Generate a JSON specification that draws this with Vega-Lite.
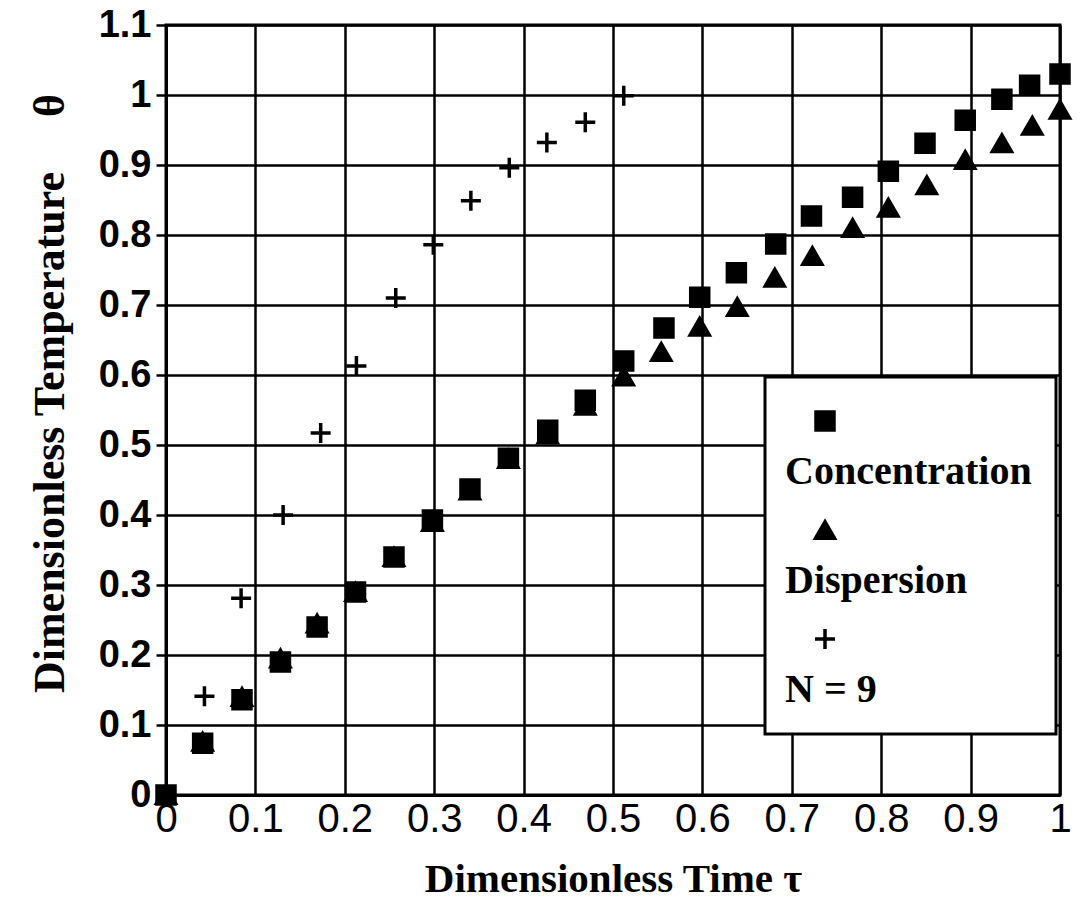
{
  "$schema": "https://vega.github.io/schema/vega-lite/v6.json",
  "width": 894,
  "height": 770,
  "autosize": "none",
  "padding": {"left": 166, "top": 25, "right": 24, "bottom": 112},
  "background": "white",
  "data": {
    "values": [
      {"series": "Dispersion", "t": 0, "theta": 0},
      {"series": "Dispersion", "t": 0.041, "theta": 0.076},
      {"series": "Dispersion", "t": 0.085, "theta": 0.14},
      {"series": "Dispersion", "t": 0.128, "theta": 0.195},
      {"series": "Dispersion", "t": 0.169, "theta": 0.245},
      {"series": "Dispersion", "t": 0.212, "theta": 0.29},
      {"series": "Dispersion", "t": 0.255, "theta": 0.34},
      {"series": "Dispersion", "t": 0.298, "theta": 0.39},
      {"series": "Dispersion", "t": 0.34, "theta": 0.435},
      {"series": "Dispersion", "t": 0.383, "theta": 0.48},
      {"series": "Dispersion", "t": 0.427, "theta": 0.515},
      {"series": "Dispersion", "t": 0.469, "theta": 0.556},
      {"series": "Dispersion", "t": 0.512, "theta": 0.598},
      {"series": "Dispersion", "t": 0.554, "theta": 0.633},
      {"series": "Dispersion", "t": 0.597, "theta": 0.669},
      {"series": "Dispersion", "t": 0.639, "theta": 0.697},
      {"series": "Dispersion", "t": 0.681, "theta": 0.739},
      {"series": "Dispersion", "t": 0.723, "theta": 0.77},
      {"series": "Dispersion", "t": 0.768, "theta": 0.81},
      {"series": "Dispersion", "t": 0.808, "theta": 0.839},
      {"series": "Dispersion", "t": 0.851, "theta": 0.871},
      {"series": "Dispersion", "t": 0.894, "theta": 0.907},
      {"series": "Dispersion", "t": 0.935, "theta": 0.931},
      {"series": "Dispersion", "t": 0.969, "theta": 0.956},
      {"series": "Dispersion", "t": 1.0, "theta": 0.979},
      {"series": "Concentration", "t": 0, "theta": 0},
      {"series": "Concentration", "t": 0.041, "theta": 0.074},
      {"series": "Concentration", "t": 0.085, "theta": 0.136},
      {"series": "Concentration", "t": 0.128, "theta": 0.19},
      {"series": "Concentration", "t": 0.169, "theta": 0.24},
      {"series": "Concentration", "t": 0.212, "theta": 0.29},
      {"series": "Concentration", "t": 0.255, "theta": 0.34},
      {"series": "Concentration", "t": 0.298, "theta": 0.393},
      {"series": "Concentration", "t": 0.34, "theta": 0.437},
      {"series": "Concentration", "t": 0.383, "theta": 0.481},
      {"series": "Concentration", "t": 0.427, "theta": 0.521},
      {"series": "Concentration", "t": 0.469, "theta": 0.564},
      {"series": "Concentration", "t": 0.512, "theta": 0.62},
      {"series": "Concentration", "t": 0.557, "theta": 0.667},
      {"series": "Concentration", "t": 0.597, "theta": 0.711},
      {"series": "Concentration", "t": 0.638, "theta": 0.746},
      {"series": "Concentration", "t": 0.682, "theta": 0.787},
      {"series": "Concentration", "t": 0.722, "theta": 0.827},
      {"series": "Concentration", "t": 0.768, "theta": 0.854},
      {"series": "Concentration", "t": 0.808, "theta": 0.891},
      {"series": "Concentration", "t": 0.849, "theta": 0.931},
      {"series": "Concentration", "t": 0.894, "theta": 0.964},
      {"series": "Concentration", "t": 0.935, "theta": 0.994},
      {"series": "Concentration", "t": 0.966, "theta": 1.014},
      {"series": "Concentration", "t": 1.0, "theta": 1.03},
      {"series": "N = 9", "t": 0, "theta": 0},
      {"series": "N = 9", "t": 0.043, "theta": 0.141},
      {"series": "N = 9", "t": 0.084, "theta": 0.281},
      {"series": "N = 9", "t": 0.131, "theta": 0.4},
      {"series": "N = 9", "t": 0.173, "theta": 0.517},
      {"series": "N = 9", "t": 0.213, "theta": 0.613},
      {"series": "N = 9", "t": 0.257, "theta": 0.71},
      {"series": "N = 9", "t": 0.299, "theta": 0.786},
      {"series": "N = 9", "t": 0.341, "theta": 0.849},
      {"series": "N = 9", "t": 0.384, "theta": 0.896},
      {"series": "N = 9", "t": 0.426, "theta": 0.932},
      {"series": "N = 9", "t": 0.469, "theta": 0.961},
      {"series": "N = 9", "t": 0.512, "theta": 0.999}
    ]
  },
  "mark": {"type": "point", "filled": true, "fill": "black", "stroke": "black", "strokeWidth": 3.5, "opacity": 1},
  "encoding": {
    "x": {
      "field": "t", "type": "quantitative",
      "scale": {"domain": [0, 1], "nice": false},
      "axis": {
        "title": "Dimensionless Time τ",
        "values": [0, 0.1, 0.2, 0.3, 0.4, 0.5, 0.6, 0.7, 0.8, 0.9, 1],
        "format": "~g",
        "ticks": false,
        "labelFont": "Liberation Sans Narrow, Liberation Sans",
        "labelFontSize": 40,
        "labelPadding": 4,
        "labelFlush": false,
        "titleFontSize": 41,
        "titlePadding": 20
      }
    },
    "y": {
      "field": "theta", "type": "quantitative",
      "scale": {"domain": [0, 1.1], "nice": false},
      "axis": {
        "title": "Dimensionless Temperature\u00a0\u00a0\u00a0\u00a0\u00a0θ",
        "values": [0, 0.1, 0.2, 0.3, 0.4, 0.5, 0.6, 0.7, 0.8, 0.9, 1, 1.1],
        "format": "~g",
        "tickSize": 10,
        "labelFont": "Liberation Sans",
        "labelFontWeight": "bold",
        "labelFontSize": 38,
        "labelPadding": 5,
        "labelFlush": false,
        "titleFontSize": 44,
        "titlePadding": 26,
        "titleY": 368
      }
    },
    "shape": {
      "field": "series", "type": "nominal",
      "scale": {"domain": ["Concentration", "Dispersion", "N = 9"], "range": ["square", "triangle-up", "M-1,0H1M0,-1V1"]},
      "legend": {
        "orient": "none", "legendX": 599, "legendY": 352,
        "title": null,
        "fillColor": "white", "strokeColor": "black",
        "padding": 24,
        "labelFont": "Liberation Serif", "labelFontWeight": "bold", "labelFontSize": 40, "labelColor": "black",
        "labelOffset": -60, "symbolOffset": 16, "rowPadding": 18,
        "labelBaseline": "middle", "labelLimit": 0,
        "symbolFillColor": "black", "symbolStrokeColor": "black", "symbolStrokeWidth": 3.5,
        "encoding": {
          "labels": {"dy": {"value": 51}},
          "symbols": {"stroke": {"value": "black"}, "strokeWidth": {"value": 3.5}},
          "legend": {"strokeWidth": {"value": 3}}
        }
      }
    },
    "size": {
      "field": "series", "type": "nominal",
      "scale": {"domain": ["Concentration", "Dispersion", "N = 9"], "range": [324, 400, 480]}
    }
  },
  "config": {
    "view": {"stroke": "black", "strokeWidth": 3},
    "axis": {
      "grid": true, "gridColor": "black", "gridWidth": 2.5, "gridOpacity": 1,
      "domainColor": "black", "domainWidth": 3,
      "tickColor": "black", "tickWidth": 2.5,
      "labelColor": "black", "titleColor": "black",
      "titleFont": "Liberation Serif", "titleFontWeight": "bold"
    }
  }
}
